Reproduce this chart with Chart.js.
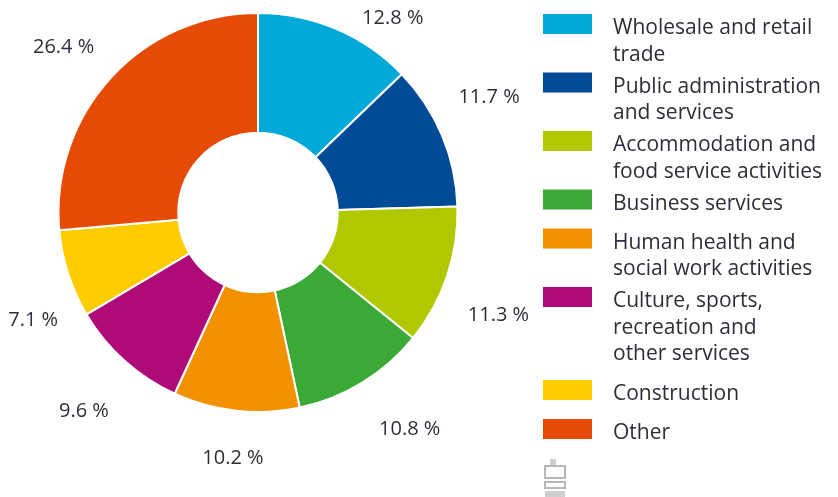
<!DOCTYPE html>
<html>
<head>
<meta charset="utf-8">
<script src="https://cdn.jsdelivr.net/npm/chart.js@4/dist/chart.umd.min.js"></script>
<style>
  html, body { margin: 0; padding: 0; background: #ffffff; }
  #wrap { width: 838px; height: 497px; position: relative; }
</style>
</head>
<body>
<div id="wrap"><canvas id="c" width="838" height="497"></canvas></div>
<script>
// ---- data ----
const categories = [
  ['Wholesale and retail', 'trade'],
  ['Public administration', 'and services'],
  ['Accommodation and', 'food service activities'],
  ['Business services'],
  ['Human health and', 'social work activities'],
  ['Culture, sports,', 'recreation and', 'other services'],
  ['Construction'],
  ['Other']
];
const shares = [12.8, 11.7, 11.3, 10.8, 10.2, 9.6, 7.1, 26.4];
const colors = ['#00a9d8', '#004b96', '#afc800', '#3aa935', '#f39200', '#ae0a78', '#ffcc00', '#e64b06'];

// ---- label placement tweaks (style only) ----
const labelAngleNudgeDeg = [11.7, -3.8, 4.4, -3.5, -0.5, -0.8, -7.7, -2];
const labelRadiusNudge = [-21, 1, 4, 7, -10, 7, -8, -2];

const TEXT = '#2e2e38';

const pctLabels = {
  id: 'pctLabels',
  afterDatasetsDraw(chart) {
    const ctx = chart.ctx;
    const meta = chart.getDatasetMeta(0);
    ctx.save();
    ctx.font = '20px "Open Sans", sans-serif';
    ctx.fillStyle = TEXT;
    ctx.textAlign = 'center';
    ctx.textBaseline = 'middle';
    meta.data.forEach((arc, i) => {
      const p = arc.getProps(['startAngle', 'endAngle', 'x', 'y', 'outerRadius'], true);
      const mid = (p.startAngle + p.endAngle) / 2 + labelAngleNudgeDeg[i] * Math.PI / 180;
      const r = p.outerRadius * 1.29 + labelRadiusNudge[i];
      const x = p.x + Math.cos(mid) * r;
      const y = p.y + Math.sin(mid) * r;
      ctx.fillText(shares[i].toFixed(1) + ' %', x, y);
    });
    ctx.restore();
  }
};

const sideLegend = {
  id: 'sideLegend',
  afterDraw(chart) {
    const ctx = chart.ctx;
    const labels = chart.data.labels;
    const bg = chart.data.datasets[0].backgroundColor;
    const boxX = 543, boxW = 49, boxH = 20, textX = 613;
    const lineH = 26.5, gap = 32, singleAdvance = 39;
    let base = 34;
    ctx.save();
    ctx.font = '21px "Open Sans", sans-serif';
    ctx.textAlign = 'left';
    ctx.textBaseline = 'alphabetic';
    labels.forEach((lines, i) => {
      ctx.fillStyle = bg[i];
      ctx.fillRect(boxX, base - 20, boxW, boxH);
      ctx.fillStyle = TEXT;
      lines.forEach((ln, k) => ctx.fillText(ln, textX, base + k * lineH));
      base += lines.length === 1 ? singleAdvance : (lines.length - 1) * lineH + gap;
      if (lines.length === 3) base += 8;
    });
    // small source logo (grey)
    ctx.strokeStyle = '#b8b8b8';
    ctx.fillStyle = '#cfcfcf';
    ctx.lineWidth = 2;
    ctx.fillRect(550, 459, 6, 8);
    ctx.strokeRect(545, 466, 20, 12);
    ctx.strokeRect(545, 482, 20, 6);
    ctx.fillRect(545, 491, 20, 6);
    ctx.restore();
  }
};

new Chart(document.getElementById('c'), {
  type: 'doughnut',
  data: {
    labels: categories,
    datasets: [{
      data: shares,
      backgroundColor: colors,
      borderColor: '#ffffff',
      borderWidth: 2,
      hoverOffset: 0
    }]
  },
  options: {
    responsive: false,
    animation: false,
    cutout: '40%',
    layout: { padding: { left: 57.5, right: 379.5, top: 12, bottom: 84 } },
    plugins: {
      legend: { display: false },
      tooltip: { enabled: false }
    }
  },
  plugins: [pctLabels, sideLegend]
});
</script>
</body>
</html>
